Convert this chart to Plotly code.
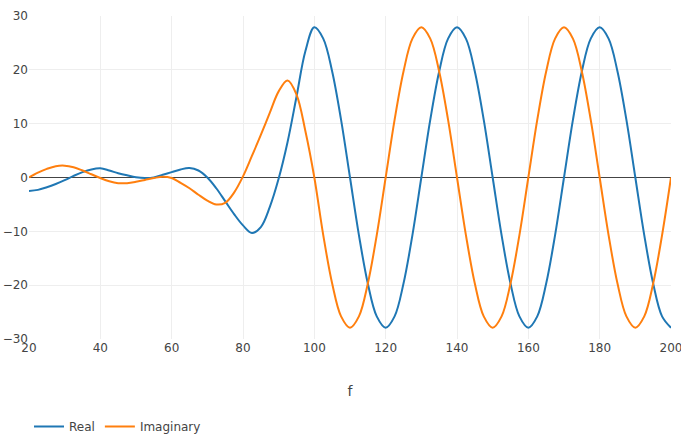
import plotly.graph_objects as go

f = [20, 22.5, 25, 27.5, 30, 32.5, 35, 37.5, 40, 42.5, 45, 47.5, 50, 52.5, 55, 57.5,
     60, 62.5, 65, 67.5, 70, 72.5, 75, 77.5, 80, 82.5, 85, 87.5, 90, 92.5, 95, 97.5,
     100, 102.5, 105, 107.5, 110, 112.5, 115, 117.5, 120, 122.5, 125, 127.5,
     130, 132.5, 135, 137.5, 140, 142.5, 145, 147.5, 150, 152.5, 155, 157.5,
     160, 162.5, 165, 167.5, 170, 172.5, 175, 177.5, 180, 182.5, 185, 187.5,
     190, 192.5, 195, 197.5, 200]

real = [-2.5, -2.3, -1.8, -1.2, -0.5, 0.3, 1.0, 1.5, 1.7, 1.3, 0.8, 0.4, 0.05, -0.1, 0.0, 0.5,
        1.0, 1.5, 1.75, 1.3, 0.0, -2.0, -4.4, -6.8, -8.9, -10.3, -9.2, -5.5, -0.2, 6.6, 15.0, 23.5,
        27.9, 25.8, 19.7, 10.7, 0.0, -10.7, -19.7, -25.8, -27.9, -25.8, -19.7, -10.7,
        0.0, 10.7, 19.7, 25.8, 27.9, 25.8, 19.7, 10.7, 0.0, -10.7, -19.7, -25.8,
        -27.9, -25.8, -19.7, -10.7, 0.0, 10.7, 19.7, 25.8, 27.9, 25.8, 19.7, 10.7,
        0.0, -10.7, -19.7, -25.8, -27.9]

imag = [0.0, 0.9, 1.6, 2.1, 2.2, 1.9, 1.3, 0.6, -0.1, -0.7, -1.05, -1.05, -0.8, -0.45, -0.1, 0.15,
        -0.1, -1.0, -2.0, -3.2, -4.3, -5.0, -4.7, -2.8, 0.2, 4.0, 7.9, 12.0, 16.0, 18.0, 15.4, 8.6,
        0.0, -10.7, -19.7, -25.8, -27.9, -25.8, -19.7, -10.7, 0.0, 10.7, 19.7, 25.8,
        27.9, 25.8, 19.7, 10.7, 0.0, -10.7, -19.7, -25.8, -27.9, -25.8, -19.7, -10.7,
        0.0, 10.7, 19.7, 25.8, 27.9, 25.8, 19.7, 10.7, 0.0, -10.7, -19.7, -25.8,
        -27.9, -25.8, -19.7, -10.7, 0.0]

fig = go.Figure()
fig.add_trace(go.Scatter(x=f, y=real, mode="lines", name="Real",
                         line=dict(color="#1f77b4", width=2, shape="spline", smoothing=1)))
fig.add_trace(go.Scatter(x=f, y=imag, mode="lines", name="Imaginary",
                         line=dict(color="#ff7f0e", width=2, shape="spline", smoothing=1)))

fig.update_layout(
    template="none",
    width=681, height=441,
    margin=dict(l=29, r=10, t=16, b=102, autoexpand=False),
    font=dict(family="DejaVu Sans, verdana, arial, sans-serif", size=12, color="#444"),
    paper_bgcolor="white", plot_bgcolor="white",
    xaxis=dict(title=dict(text="f", standoff=32), range=[20, 200], dtick=20, showgrid=True,
               gridcolor="#eee", zeroline=False, ticks="", automargin=False,
               ticklabeloverflow="allow"),
    yaxis=dict(range=[-30, 30], dtick=10, showgrid=True, gridcolor="#eee",
               zeroline=True, zerolinecolor="#444", zerolinewidth=1, ticks="", automargin=False,
               ticklabeloverflow="allow"),
    legend=dict(orientation="h", x=0, xanchor="left", y=-0.226, yanchor="top"),
    showlegend=True,
)

fig.write_html("out.html", config={"displayModeBar": False},
               post_script="document.body.style.margin = '0px';")
